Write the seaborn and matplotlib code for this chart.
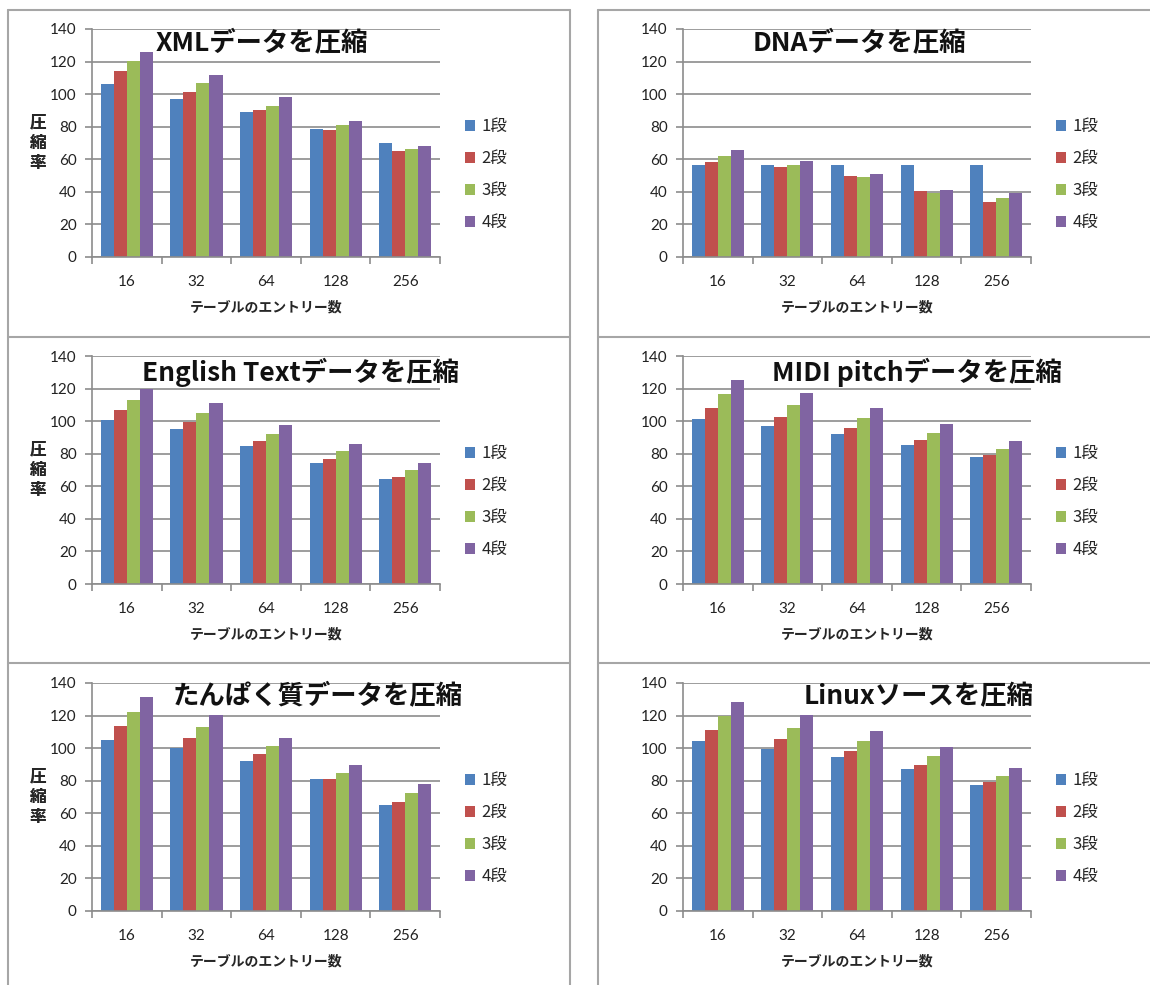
import numpy as np
import pandas as pd
import matplotlib
matplotlib.use("Agg")
import matplotlib.pyplot as plt
from matplotlib.lines import Line2D
import seaborn as sns

# categories
entries = ["16", "32", "64", "128", "256"]
stages = ["1段", "2段", "3段", "4段"]

# compression ratios, one list per stage
xml_vals = [[106.3, 97.1, 89.0, 78.7, 70.0],
            [114.3, 101.2, 90.0, 78.1, 65.0],
            [120.2, 107.0, 92.8, 81.0, 66.3],
            [125.8, 111.7, 98.2, 83.8, 68.3]]
dna_vals = [[56.2, 56.2, 56.2, 56.2, 56.2],
            [58.3, 55.2, 49.9, 40.5, 33.5],
            [62.0, 56.6, 49.1, 39.3, 36.2],
            [65.4, 58.9, 50.9, 41.1, 39.0]]
eng_vals = [[100.6, 95.0, 84.8, 74.2, 64.2],
            [107.1, 99.3, 87.7, 76.8, 65.8],
            [113.2, 105.0, 92.2, 81.5, 70.1],
            [120.0, 111.2, 97.5, 86.2, 74.4]]
midi_vals = [[101.2, 97.3, 92.0, 85.6, 78.1],
             [108.3, 102.8, 96.0, 88.3, 79.3],
             [116.7, 109.7, 101.8, 92.6, 83.0],
             [125.3, 117.5, 108.3, 98.3, 87.7]]
protein_vals = [[105.0, 100.1, 92.4, 81.1, 65.0],
                [113.8, 106.5, 96.1, 81.3, 67.2],
                [122.4, 113.2, 101.4, 85.0, 72.3],
                [131.2, 120.4, 106.5, 89.5, 77.9]]
linux_vals = [[104.2, 99.7, 94.6, 86.9, 77.3],
              [111.2, 105.5, 98.3, 89.5, 79.1],
              [119.8, 112.4, 104.6, 95.0, 83.2],
              [128.3, 120.2, 110.6, 100.6, 87.7]]

titles = ["XMLデータを圧縮", "DNAデータを圧縮", "English Textデータを圧縮",
          "MIDI pitchデータを圧縮", "たんぱく質データを圧縮", "Linuxソースを圧縮"]
all_vals = [xml_vals, dna_vals, eng_vals, midi_vals, protein_vals, linux_vals]

colors = ["#4F81BD", "#C0504D", "#9BBB59", "#8064A2"]

sns.set_theme(style="white")
plt.rcParams["font.family"] = ["Noto Sans CJK JP", "DejaVu Sans"]

W, H = 1150, 985
fig = plt.figure(figsize=(W / 100, H / 100), dpi=100)

def to_df(vals):
    rows = []
    for s, series in zip(stages, vals):
        for e, v in zip(entries, series):
            rows.append({"entries": e, "stage": s, "ratio": v})
    return pd.DataFrame(rows)

# pixel layout of each panel: axes left, top, and title centre
col_left = [92, 683]
row_top = [29, 356, 683]
ax_w, ax_h = 348, 228
title_pos = [(262, 44), (859, 44), (300, 372), (917, 372), (318, 697), (919, 697)]
grid_col = "#8C8C8C"
text_col = "#222222"

for i, (vals, title) in enumerate(zip(all_vals, titles)):
    r, c = divmod(i, 2)
    left, top = col_left[c], row_top[r]
    ax = fig.add_axes([left / W, 1 - (top + ax_h) / H, ax_w / W, ax_h / H])
    df = to_df(vals)
    sns.barplot(data=df, x="entries", y="ratio", hue="stage", order=entries,
                hue_order=stages, palette=colors, saturation=1, width=0.75,
                linewidth=0, ax=ax)
    ax.set_ylim(0, 140)
    ax.set_xlim(-0.5, 4.5)
    ax.set_yticks(np.arange(0, 141, 20))
    ax.yaxis.grid(True, color=grid_col, linewidth=1.2)
    ax.set_axisbelow(True)
    for sp in ["top", "right"]:
        ax.spines[sp].set_visible(False)
    for sp in ["left", "bottom"]:
        ax.spines[sp].set_color(grid_col)
        ax.spines[sp].set_linewidth(1.2)
    ax.set_xticks(np.arange(-0.5, 5, 1), minor=True)
    ax.tick_params(axis="x", which="major", length=0, pad=13, colors=text_col)
    ax.tick_params(axis="x", which="minor", length=5, width=1.2, color=grid_col, bottom=True)
    ax.tick_params(axis="y", length=5, width=1.2, color=grid_col, left=True,
                   labelcolor=text_col, pad=6)
    for lab in ax.get_xticklabels() + ax.get_yticklabels():
        lab.set_fontfamily("Lato")
        lab.set_fontsize(11)
    ax.set_xlabel("テーブルのエントリー数", fontsize=10, fontweight="bold", labelpad=8)
    ax.set_ylabel("")
    fig.text(38 / W, 1 - (top + ax_h / 2) / H, "圧\n縮\n率", ha="center", va="center",
             fontsize=12, fontweight="bold", linespacing=1.15)
    fig.text(title_pos[i][0] / W, 1 - title_pos[i][1] / H, title, ha="center", va="center",
             fontsize=19, fontweight="bold", color="#111111")
    ax.legend(loc="center left", bbox_to_anchor=(1.03, 0.36), frameon=False,
              handlelength=0.6, handleheight=0.6, handletextpad=0.35,
              labelspacing=0.9, fontsize=12)

# panel frames
frame_col = "#A6A6A6"
def hline(y, x0, x1):
    fig.add_artist(Line2D([x0 / W, x1 / W], [1 - y / H, 1 - y / H], color=frame_col, lw=1.5))
def vline(x, y0, y1):
    fig.add_artist(Line2D([x / W, x / W], [1 - y0 / H, 1 - y1 / H], color=frame_col, lw=1.5))

for y in [10, 337, 663]:
    hline(y, 8, 570)
    hline(y, 598, W)
vline(8, 10, H)
vline(570, 10, H)
vline(598, 10, H)

fig.savefig("out.png", dpi=100)
